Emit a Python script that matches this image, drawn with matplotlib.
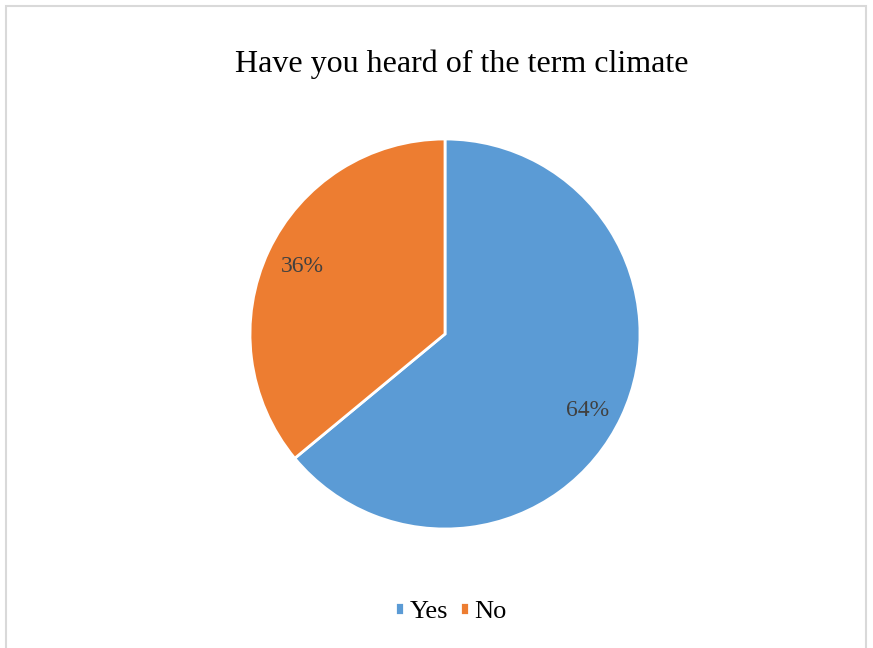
import matplotlib
matplotlib.use('Agg')
import matplotlib.pyplot as plt
from matplotlib.patches import Rectangle

# Datos de la encuesta
categorias = ['Yes', 'No']
porcentajes = [64, 36]
colores = ['#5B9BD5', '#ED7D31']

plt.rcParams['font.family'] = ['Liberation Serif', 'DejaVu Serif']

W, H = 873, 648
fig = plt.figure(figsize=(W / 100, H / 100), dpi=100)

# Marco gris alrededor del grafico
fig.patches.append(Rectangle((6 / W, -0.01), 860 / W, 1 - 6 / H + 0.01,
                             transform=fig.transFigure, fill=False,
                             edgecolor='#D9D9D9', linewidth=1.5))

cx, cy, r = 445, 334, 195
ax = fig.add_axes([(cx - r) / W, (H - cy - r) / H, 2 * r / W, 2 * r / H])
wedges, texts, autotexts = ax.pie(
    porcentajes,
    colors=colores,
    startangle=90,
    counterclock=False,
    autopct='%1.0f%%',
    pctdistance=0.81,
    wedgeprops={'edgecolor': 'white', 'linewidth': 2},
    textprops={'fontsize': 17, 'color': '#404040'},
)
# la etiqueta del 64% va un poco mas abajo
x, y = autotexts[0].get_position()
autotexts[0].set_position((x, y - 0.045))
ax.set_xlim(-1, 1)
ax.set_ylim(-1, 1)
ax.set_aspect('equal')

fig.text(462 / W, 1 - 64 / H, 'Have you heard of the term climate',
         ha='center', va='center', fontsize=23, color='black')

fig.legend(wedges, categorias, loc='center', bbox_to_anchor=(451 / W, 1 - 612 / H),
           ncol=2, frameon=False, fontsize=19, handlelength=0.35, handleheight=0.35,
           handletextpad=0.2, columnspacing=0.45)

plt.savefig('out.png', dpi=100)
plt.close()
